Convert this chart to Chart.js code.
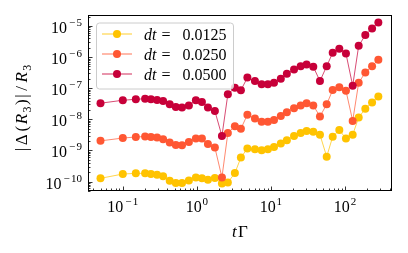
<!DOCTYPE html>
<html lang="en">
<head>
<meta charset="UTF-8" />
<title>Relative error vs tΓ</title>
<script src="https://cdn.jsdelivr.net/npm/chart.js"></script>
<style>
  html, body { margin: 0; padding: 0; background: #fff; }
  canvas { display: block; }
</style>
</head>
<body>
<canvas id="errChart" width="408" height="253"></canvas>
<script>
// time points (tΓ)
const tGamma = [0.05, 0.1, 0.15, 0.2, 0.24, 0.29, 0.35, 0.43, 0.52, 0.63, 0.78, 0.97,
  1.17, 1.41, 1.75, 2.18, 2.62, 3.26, 3.93, 4.81, 6.08, 7.49, 9.1, 11.0, 13.6, 16.4,
  20.5, 25.2, 30.3, 37.3, 45.9, 56.6, 68.2, 83.8, 103, 127, 153, 188, 232, 282];

// |Δ(R3)|/R3 for each step size
const err0125 = [1.27e-10, 1.74e-10, 1.83e-10, 1.83e-10, 1.74e-10, 1.66e-10, 1.47e-10, 1.06e-10,
  9.0e-11, 9.0e-11, 1.08e-10, 1.36e-10, 1.27e-10, 1.14e-10, 1.3e-10, 8.6e-11, 9.3e-11, 1.87e-10,
  5.9e-10, 1.16e-9, 1.1e-9, 1.02e-9, 1.1e-9, 1.3e-9, 1.67e-9, 2.14e-9, 2.9e-9, 3.6e-9, 4.25e-9,
  4.0e-9, 3.2e-9, 6.3e-10, 2.77e-9, 4.5e-9, 2.43e-9, 3.2e-9, 1.14e-8, 2.2e-8, 3.5e-8, 5.4e-8];
const err0250 = [2.03e-9, 2.5e-9, 2.7e-9, 2.8e-9, 2.7e-9, 2.6e-9, 2.3e-9, 1.8e-9, 1.5e-9, 1.48e-9,
  1.85e-9, 2.4e-9, 2.4e-9, 1.6e-9, 1.25e-9, 1.36e-10, 3.6e-9, 6.0e-9, 5.0e-9, 1.4e-8, 1.06e-8,
  8.3e-9, 8.3e-9, 9.5e-9, 1.28e-8, 1.7e-8, 2.27e-8, 2.8e-8, 3.3e-8, 2.8e-8, 1.23e-8, 3.05e-8,
  8.7e-8, 1.07e-7, 8.3e-8, 8.9e-9, 1.5e-7, 3.2e-7, 5.1e-7, 8.3e-7];
const err0500 = [3.3e-8, 4.1e-8, 4.4e-8, 4.6e-8, 4.4e-8, 4.2e-8, 3.9e-8, 3.05e-8, 2.5e-8, 2.4e-8,
  2.8e-8, 4.1e-8, 3.6e-8, 2.4e-8, 1.86e-8, 2.9e-9, 6.4e-8, 1.03e-7, 8.6e-8, 2.2e-7, 1.7e-7,
  1.33e-7, 1.33e-7, 1.5e-7, 2.0e-7, 2.9e-7, 4.0e-7, 5.1e-7, 5.8e-7, 4.9e-7, 1.7e-7, 5.1e-7,
  1.38e-6, 1.86e-6, 1.3e-6, 1.2e-7, 2.3e-6, 5.1e-6, 8.3e-6, 1.3e-5];

const dtLabels = ['0.0125', '0.0250', '0.0500'];
const xDecades = [-1, 0, 1, 2];
const yDecades = [-10, -9, -8, -7, -6, -5];

const colors = ['#FFC300', '#FF5733', '#C70039'];
const lineColors = ['rgba(255,195,0,0.7)', 'rgba(255,87,51,0.7)', 'rgba(199,0,57,0.7)'];

const FONT = '"Liberation Serif"';
const TICK = '16px ' + FONT;
const SUP = '11px ' + FONT;
const LAB = '17px ' + FONT;
const LABI = 'italic 17px ' + FONT;
const LABSUB = '12px ' + FONT;
const LEG = '16px ' + FONT;
const LEGI = 'italic 16px ' + FONT;

function series(i, data) {
  return {
    label: 'dt = ' + dtLabels[i],
    data: tGamma.map((t, k) => ({ x: t, y: data[k] })),
    borderColor: lineColors[i],
    backgroundColor: colors[i],
    borderWidth: 1,
    pointRadius: 4,
    pointBorderWidth: 0,
    pointBackgroundColor: colors[i],
    tension: 0,
    order: 2 - i
  };
}

// draw runs of text: [text, font, dy, extra space after, extra space before]
function drawRuns(ctx, runs, x, y, align) {
  let w = 0;
  runs.forEach(r => { ctx.font = r[1]; w += ctx.measureText(r[0]).width + (r[3] || 0) + (r[4] || 0); });
  let cx = align === 'center' ? x - w / 2 : (align === 'right' ? x - w : x);
  ctx.textAlign = 'left';
  ctx.textBaseline = 'alphabetic';
  runs.forEach(r => {
    ctx.font = r[1];
    cx += r[4] || 0;
    ctx.fillText(r[0], cx, y + (r[2] || 0));
    cx += ctx.measureText(r[0]).width + (r[3] || 0);
  });
}

function powRuns(e) {
  const runs = [['10', TICK, 0, 0.8]];
  if (e < 0) runs.push(['\u2212', SUP, -7, 1.3, 1.2]);
  runs.push([String(Math.abs(e)), SUP, -7]);
  return runs;
}

const decor = {
  id: 'decor',
  afterDraw(chart) {
    const ctx = chart.ctx;
    const a = chart.chartArea;
    const xs = chart.scales.x, ys = chart.scales.y;
    ctx.save();
    ctx.fillStyle = '#000';
    ctx.strokeStyle = '#000';

    // inward ticks
    ctx.lineWidth = 0.8;
    ctx.beginPath();
    for (let d = -2; d <= 3; d++) {
      for (let k = 1; k <= 9; k++) {
        const v = k * Math.pow(10, d);
        if (v < xs.min || v > xs.max) continue;
        const px = Math.round(xs.getPixelForValue(v)) + 0.5;
        const len = k === 1 ? 4.5 : 2.5;
        ctx.moveTo(px, a.bottom);
        ctx.lineTo(px, a.bottom - len);
      }
    }
    for (let d = -11; d <= -4; d++) {
      for (let k = 1; k <= 9; k++) {
        const v = k * Math.pow(10, d);
        if (v < ys.min || v > ys.max) continue;
        const py = Math.round(ys.getPixelForValue(v)) + 0.5;
        const len = k === 1 ? 4.5 : 2.5;
        ctx.moveTo(a.left, py);
        ctx.lineTo(a.left + len, py);
      }
    }
    ctx.stroke();

    // frame
    ctx.lineWidth = 1;
    ctx.strokeRect(a.left + 0.5, a.top + 0.5, a.right - a.left - 1, a.bottom - a.top - 1);

    // tick labels
    xDecades.forEach(e => {
      drawRuns(ctx, powRuns(e), xs.getPixelForValue(Math.pow(10, e)), a.bottom + 21, 'center');
    });
    yDecades.forEach(e => {
      drawRuns(ctx, powRuns(e), a.left - 6, ys.getPixelForValue(Math.pow(10, e)) + 7, 'right');
    });

    // axis titles
    drawRuns(ctx, [['t', LABI, 0, 1.2], ['\u0393', LAB]], (a.left + a.right) / 2, 237, 'center');
    ctx.save();
    ctx.translate(27, (a.top + a.bottom) / 2 + 5);
    ctx.rotate(-Math.PI / 2);
    drawRuns(ctx, [
      ['|', LAB, 0, 2.5], ['\u0394', LAB, 0, 3], ['(', LAB, 0, 1.5], ['R', LABI, 0, 1.5],
      ['3', LABSUB, 3.5, 1.5], [')', LAB, 0, 1.5], ['|', LAB, 0, 3.5], ['/', LAB, 0, 3.5],
      ['R', LABI, 0, 1.5], ['3', LABSUB, 3.5]
    ], 0, 0, 'center');
    ctx.restore();

    // legend
    const lx = 96, ly = 22.5, lw = 137, lh = 66;
    ctx.beginPath();
    ctx.roundRect(lx + 0.5, ly + 0.5, lw, lh, 3);
    ctx.fillStyle = 'rgba(255,255,255,0.8)';
    ctx.fill();
    ctx.strokeStyle = '#cccccc';
    ctx.lineWidth = 1;
    ctx.stroke();
    dtLabels.forEach((lab, i) => {
      const ry = 34 + i * 20;
      ctx.strokeStyle = lineColors[i];
      ctx.lineWidth = 1.2;
      ctx.beginPath();
      ctx.moveTo(102, ry);
      ctx.lineTo(132, ry);
      ctx.stroke();
      ctx.fillStyle = colors[i];
      ctx.beginPath();
      ctx.arc(117, ry, 4, 0, Math.PI * 2);
      ctx.fill();
      ctx.fillStyle = '#000';
      ctx.textAlign = 'left';
      ctx.textBaseline = 'alphabetic';
      ctx.font = LEGI;
      ctx.fillText('dt', 144, ry + 5.5);
      ctx.font = LEG;
      ctx.fillText('=', 161.5, ry + 5.5);
      ctx.fillText(lab, 182.5, ry + 5.5);
    });
    ctx.restore();
  }
};

new Chart(document.getElementById('errChart'), {
  type: 'line',
  data: { datasets: [series(0, err0125), series(1, err0250), series(2, err0500)] },
  options: {
    responsive: false,
    animation: false,
    devicePixelRatio: 1,
    layout: { padding: { left: 0, right: 16, top: 15, bottom: 0 } },
    plugins: { legend: { display: false }, tooltip: { enabled: false } },
    scales: {
      x: {
        type: 'logarithmic',
        min: 0.0339, max: 431,
        grid: { display: false },
        border: { display: false },
        ticks: { display: false },
        afterFit: s => { s.height = 62; }
      },
      y: {
        type: 'logarithmic',
        min: 4.96e-11, max: 2.26e-5,
        grid: { display: false },
        border: { display: false },
        ticks: { display: false },
        afterFit: s => { s.width = 88; }
      }
    }
  },
  plugins: [decor]
});
</script>
</body>
</html>
